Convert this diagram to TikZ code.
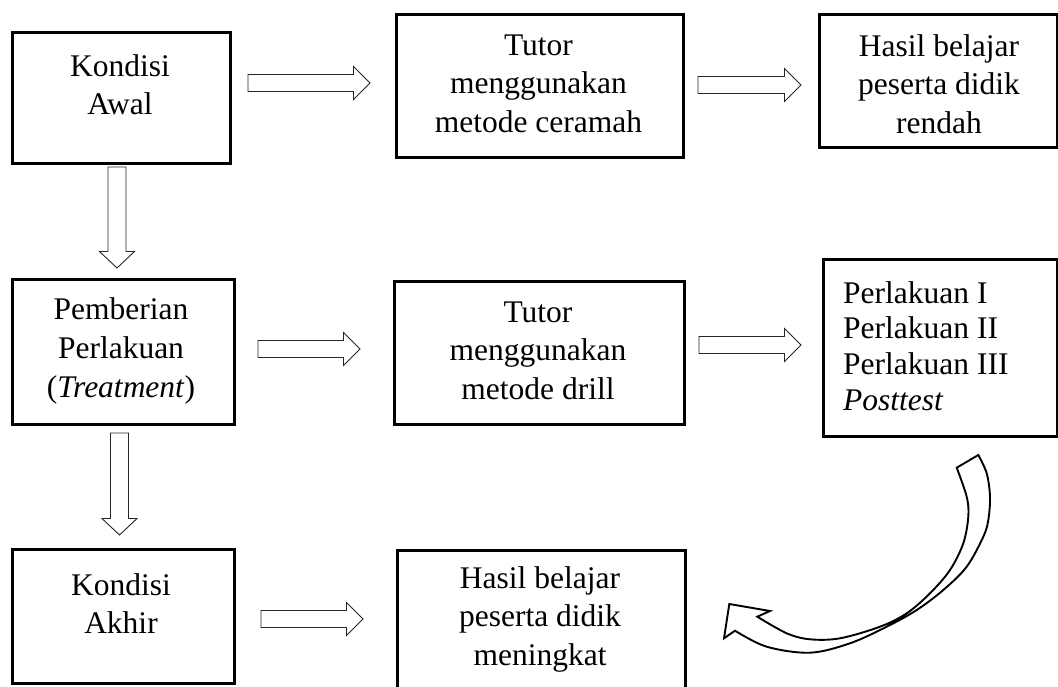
\documentclass[tikz,border=0pt]{standalone}
\usepackage{fontspec}
\setmainfont{Liberation Serif}
\newcommand\ctxt[2][38.5pt]{\vtop{\baselineskip=#1\lineskip=0pt\lineskiplimit=-60pt\halign{\hfil##\hfil\cr#2\crcr}}}
\newcommand\ltxt[2][35.7pt]{\vtop{\baselineskip=#1\lineskip=0pt\lineskiplimit=-60pt\halign{##\hfil\cr#2\crcr}}}
% horizontal block arrow: x1, x2, yc
\newcommand\harrow[3]{\draw[blockarrow] (#1,#3-8.5) -- (#2-16.5,#3-8.5) -- (#2-16.5,#3-16.5) -- (#2,#3) -- (#2-16.5,#3+16.5) -- (#2-16.5,#3+8.5) -- (#1,#3+8.5) -- cycle;}
% vertical block arrow: xc, y1, y2
\newcommand\varrow[3]{\draw[blockarrow] (#1-9,#2) -- (#1+9,#2) -- (#1+9,#3-16.5) -- (#1+17.5,#3-16.5) -- (#1,#3) -- (#1-17.5,#3-16.5) -- (#1-9,#3-16.5) -- cycle;}
\tikzset{
  box/.style={draw=black, line width=2.6pt, rectangle, inner sep=0pt, anchor=north west},
  txt/.style={inner sep=0pt, anchor=base, font=\fontsize{31.5}{38.5}\selectfont},
  blockarrow/.style={draw=black!85, line width=0.9pt, fill=white, line join=miter},
  curvearrow/.style={draw=black, line width=1.9pt, fill=white, line join=miter}
}
\begin{document}
\begin{tikzpicture}[x=1pt,y=-1pt]
\useasboundingbox (0,0) rectangle (1058,686);
\clip (0,0) rectangle (1058,686);
% boxes
\node[box, minimum width=218pt, minimum height=131pt] (A) at (11,31) {};
\node[box, minimum width=287pt, minimum height=143pt] (B) at (395,13) {};
\node[box, minimum width=238pt, minimum height=133pt] (C) at (818,13) {};
\node[box, minimum width=222pt, minimum height=145pt] (D) at (11,278) {};
\node[box, minimum width=290pt, minimum height=143pt] (E) at (393,280) {};
\node[box, minimum width=234pt, minimum height=177pt] (F) at (822,258) {};
\node[box, minimum width=222pt, minimum height=134pt] (G) at (11,548) {};
\node[box, minimum width=288pt, minimum height=160pt] (H) at (396,549) {};
% texts
\node[txt] (tA) at (120,76) {\ctxt{Kondisi\cr Awal}};
\node[txt] (tB) at (538.5,55) {\ctxt{Tutor\cr menggunakan\cr metode ceramah}};
\node[txt] (tC) at (939,56) {\ctxt{Hasil belajar\cr peserta didik\cr rendah}};
\node[txt] (tD) at (121,319) {\ctxt[39pt]{Pemberian\cr Perlakuan\cr (\textit{Treatment})}};
\node[txt, anchor=base west] (tF) at (843,303) {\ltxt{Perlakuan I\cr Perlakuan II\cr Perlakuan III\cr \textit{Posttest}}};
\node[txt] (tE) at (538,322) {\ctxt{Tutor\cr menggunakan\cr metode drill}};
\node[txt] (tG) at (121,595) {\ctxt[38pt]{Kondisi\cr Akhir}};
\node[txt] (tH) at (540,588) {\ctxt{Hasil belajar\cr peserta didik\cr meningkat}};
% block arrows
\harrow{248}{370}{83}
\harrow{698}{801}{85}
\harrow{258}{360}{349}
\harrow{699}{801}{345}
\harrow{261}{363}{619}
\varrow{117}{167}{268}
\varrow{119.5}{433}{535}
% curved arrow
\draw[curvearrow]
  plot[smooth, tension=0.55] coordinates {(978.3,455) (986.7,473.3) (990,496.7) (988.3,520) (983.3,536.7) (966.7,566.7) (943.3,590) (916.7,610) (886.7,626.7) (850,643.3) (810,652.7) (766.7,646.7) (735,630.7)}
  -- (724,638.3) -- (729.3,604) -- (770,611) -- (757.3,616.7)
  -- plot[smooth, tension=0.55] coordinates {(757.3,616.7) (786.7,633.3) (810,639.3) (840,638.3) (880,626.7) (906.7,613.3) (930,593.3) (950,570) (963.3,543.3) (968.3,516.7) (966.7,496.7) (956.7,467.7)}
  -- cycle;
\end{tikzpicture}
\end{document}
